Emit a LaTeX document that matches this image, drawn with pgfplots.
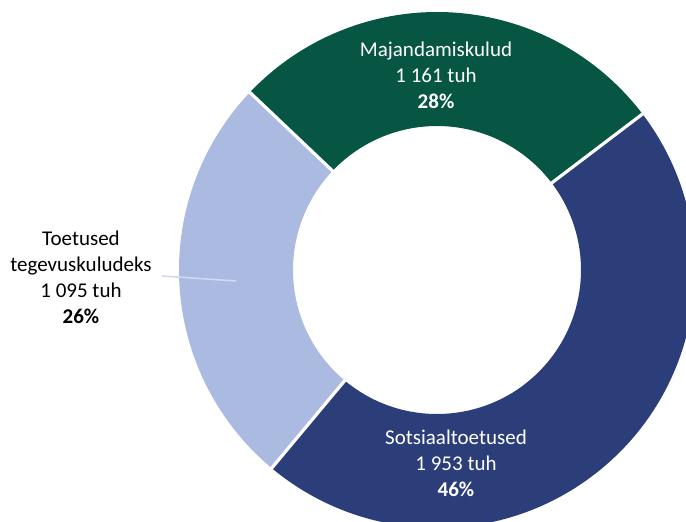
\documentclass[border=0pt]{standalone}
\usepackage{pgfplots}
\usepackage{pgfplotstable}
\pgfplotsset{compat=1.18}
\usepackage{fontspec}
\setmainfont{Carlito}

\definecolor{cgreen}{HTML}{075644}
\definecolor{cnavy}{HTML}{2C3E7A}
\definecolor{clight}{HTML}{AABAE0}

% kulud, tuh eurot
\pgfplotstableread{
label value
Majandamiskulud 1161
Sotsiaaltoetused 1953
Toetused 1095
}\kulud

\begin{document}
\begin{tikzpicture}
% slice angles from the table (clockwise, first slice starts at 136.5 deg)
\pgfplotstablegetelem{0}{value}\of\kulud \let\va\pgfplotsretval
\pgfplotstablegetelem{1}{value}\of\kulud \let\vb\pgfplotsretval
\pgfplotstablegetelem{2}{value}\of\kulud \let\vc\pgfplotsretval
\pgfmathsetmacro\tot{\va+\vb+\vc}
\pgfmathsetmacro\aA{136.5}
\pgfmathsetmacro\aB{\aA-360*(\va/\tot)}
\pgfmathsetmacro\aC{\aB-360*(\vb/\tot)}
\pgfmathsetmacro\aD{\aC-360*(\vc/\tot)}
\def\Ro{129pt}\def\Ri{72pt}\def\Rw{-57pt}
\begin{axis}[
  hide axis, scale only axis,
  x=0.5pt, y=0.5pt,
  xmin=0, xmax=686, ymin=0, ymax=521,
  clip=false,
]
\coordinate (bl) at (axis cs:0,0);
\coordinate (tr) at (axis cs:686,521);
\coordinate (c) at (axis cs:437,251);
\fill[cgreen] (c) ++(\aA:\Ro) arc[start angle=\aA, end angle=\aB, radius=\Ro]
  -- ++(\aB:\Rw) arc[start angle=\aB, end angle=\aA, radius=\Ri] -- cycle;
\fill[cnavy] (c) ++(\aB:\Ro) arc[start angle=\aB, end angle=\aC, radius=\Ro]
  -- ++(\aC:\Rw) arc[start angle=\aC, end angle=\aB, radius=\Ri] -- cycle;
\fill[clight] (c) ++(\aC:\Ro) arc[start angle=\aC, end angle=\aD, radius=\Ro]
  -- ++(\aD:\Rw) arc[start angle=\aD, end angle=\aC, radius=\Ri] -- cycle;
% white gaps between slices
\draw[white, line width=1.6pt] (c) ++(\aA:66pt) -- ++(\aA:70pt);
\draw[white, line width=1.6pt] (c) ++(\aB:66pt) -- ++(\aB:70pt);
\draw[white, line width=1.6pt] (c) ++(\aC:66pt) -- ++(\aC:70pt);
% leader line
\draw[clight!55!white, line width=0.8pt] (axis cs:162,245) -- (axis cs:236,240);
% labels
\node[white, align=center, font=\fontsize{10.5}{13}\selectfont]
  at (axis cs:436,446) {Majandamiskulud\\1 161 tuh\\\textbf{28\%}};
\node[white, align=center, font=\fontsize{10.5}{13}\selectfont]
  at (axis cs:456,58) {Sotsiaaltoetused\\1 953 tuh\\\textbf{46\%}};
\node[black, align=center, font=\fontsize{10.5}{13}\selectfont]
  at (axis cs:81,244) {Toetused\\tegevuskuludeks\\1 095 tuh\\\textbf{26\%}};
\end{axis}
\pgfresetboundingbox
\useasboundingbox (bl) rectangle (tr);
\end{tikzpicture}
\end{document}
